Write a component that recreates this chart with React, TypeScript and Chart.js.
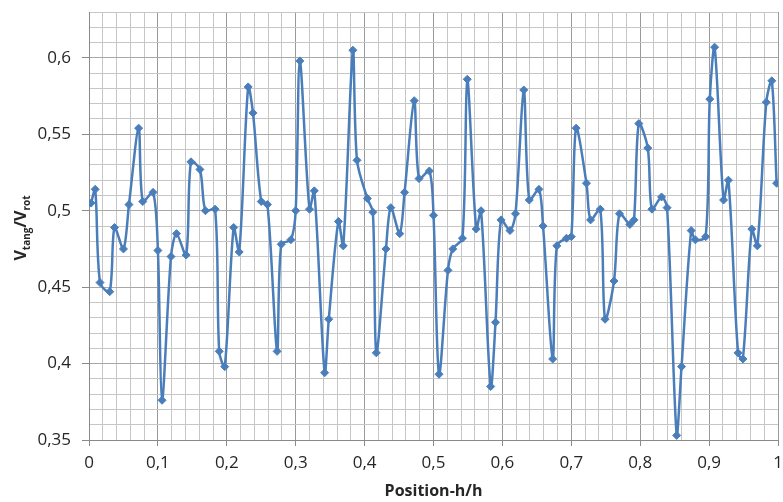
import React, { useEffect, useRef } from "react";
import { Chart, registerables } from "chart.js";

Chart.register(...registerables);

const positions = [
  0.003, 0.009, 0.016, 0.030, 0.037, 0.050, 0.058, 0.072, 0.078, 0.093,
  0.100, 0.106, 0.119, 0.127, 0.141, 0.148, 0.161, 0.169, 0.183, 0.189,
  0.197, 0.210, 0.218, 0.231, 0.238, 0.250, 0.259, 0.273, 0.279, 0.293,
  0.300, 0.306, 0.320, 0.327, 0.342, 0.348, 0.362, 0.369, 0.383, 0.389,
  0.404, 0.412, 0.417, 0.431, 0.438, 0.451, 0.458, 0.472, 0.479, 0.494,
  0.500, 0.508, 0.521, 0.528, 0.542, 0.549, 0.562, 0.569, 0.583, 0.590,
  0.598, 0.611, 0.619, 0.631, 0.639, 0.653, 0.659, 0.673, 0.679, 0.693,
  0.700, 0.707, 0.722, 0.728, 0.742, 0.749, 0.762, 0.770, 0.785, 0.791,
  0.798, 0.811, 0.817, 0.831, 0.839, 0.853, 0.860, 0.874, 0.880, 0.895,
  0.901, 0.908, 0.921, 0.928, 0.942, 0.949, 0.962, 0.970, 0.983, 0.991,
  0.998,
];

const ratios = [
  0.505, 0.514, 0.453, 0.447, 0.489, 0.475, 0.504, 0.554, 0.506, 0.512,
  0.474, 0.376, 0.470, 0.485, 0.471, 0.532, 0.527, 0.500, 0.501, 0.408,
  0.398, 0.489, 0.473, 0.581, 0.564, 0.506, 0.504, 0.408, 0.478, 0.481,
  0.500, 0.598, 0.501, 0.513, 0.394, 0.429, 0.493, 0.477, 0.605, 0.533,
  0.508, 0.499, 0.407, 0.475, 0.502, 0.485, 0.512, 0.572, 0.521, 0.526,
  0.497, 0.393, 0.461, 0.475, 0.482, 0.586, 0.488, 0.500, 0.385, 0.427,
  0.494, 0.487, 0.498, 0.579, 0.507, 0.514, 0.490, 0.403, 0.477, 0.482,
  0.483, 0.554, 0.518, 0.494, 0.501, 0.429, 0.454, 0.498, 0.491, 0.494,
  0.557, 0.541, 0.501, 0.509, 0.502, 0.353, 0.398, 0.487, 0.481, 0.483,
  0.573, 0.607, 0.507, 0.520, 0.407, 0.403, 0.488, 0.477, 0.571, 0.585,
  0.518,
];

const xMin = 0;
const xMax = 1;
const xStep = 0.02;
const xMajor = 0.1;
const yMin = 0.35;
const yMax = 0.63;
const yStep = 0.01;
const yMajor = 0.05;

const xTitle = "Position-h/h";
const yTitleParts = [
  { text: "V", sub: false },
  { text: "tang", sub: true },
  { text: "/V", sub: false },
  { text: "rot", sub: true },
];

const FONT = "'Open Sans', 'Liberation Sans', sans-serif";
const LINE_COLOR = "#4a7ebb";

function isMultiple(v: number, m: number) {
  const r = v / m;
  return Math.abs(r - Math.round(r)) < 1e-6;
}

function fmt(v: number) {
  const s = (Math.round(v * 1000) / 1000).toString();
  return s.replace(".", ",");
}

const yTitlePlugin = {
  id: "yTitleSub",
  afterDraw(chart: any) {
    const ctx = chart.ctx;
    const area = chart.chartArea;
    const mainFont = `bold 16px ${FONT}`;
    const subFont = `bold 10px ${FONT}`;
    ctx.save();
    let total = 0;
    const widths: number[] = [];
    for (const p of yTitleParts) {
      ctx.font = p.sub ? subFont : mainFont;
      const w = ctx.measureText(p.text).width;
      widths.push(w);
      total += w;
    }
    const cy = (area.top + area.bottom) / 2 + 2;
    const baseX = 26;
    ctx.translate(baseX, cy);
    ctx.rotate(-Math.PI / 2);
    ctx.fillStyle = "#262626";
    ctx.textBaseline = "alphabetic";
    ctx.textAlign = "left";
    let x = -total / 2;
    yTitleParts.forEach((p, i) => {
      ctx.font = p.sub ? subFont : mainFont;
      ctx.fillText(p.text, x, p.sub ? 4 : 0);
      x += widths[i];
    });
    ctx.restore();
  },
};

export default function App() {
  const ref = useRef<HTMLCanvasElement | null>(null);

  useEffect(() => {
    document.body.style.margin = "0";
    const canvas = ref.current;
    if (!canvas) return;
    const points = positions.map((x, i) => ({ x, y: ratios[i] }));
    const chart = new Chart(canvas, {
      type: "line",
      data: {
        datasets: [
          {
            data: points,
            borderColor: LINE_COLOR,
            backgroundColor: LINE_COLOR,
            borderWidth: 2.5,
            tension: 0.3,
            pointStyle: "rectRot",
            pointRadius: 4,
            pointBorderWidth: 1,
            pointBackgroundColor: LINE_COLOR,
            pointBorderColor: LINE_COLOR,
            fill: false,
          },
        ],
      },
      options: {
        responsive: false,
        animation: false,
        events: [],
        layout: { padding: { top: 12, right: 4, left: 0, bottom: 0 } },
        plugins: {
          legend: { display: false },
          tooltip: { enabled: false },
        },
        scales: {
          x: {
            type: "linear",
            min: xMin,
            max: xMax,
            afterFit: (scale: any) => {
              scale.height = 62;
              scale.paddingRight = 0;
              scale.paddingLeft = 0;
            },
            ticks: {
              stepSize: xStep,
              maxTicksLimit: 200,
              autoSkip: false,
              maxRotation: 0,
              minRotation: 0,
              padding: 7,
              color: "#262626",
              font: { family: FONT, size: 17 },
              callback: (v: any) => (isMultiple(Number(v), xMajor) ? fmt(Number(v)) : ""),
            },
            grid: {
              color: (c: any) =>
                c.tick && isMultiple(c.tick.value, xMajor) ? "#9a9a9a" : "#c6c6c6",
              tickColor: (c: any) =>
                c.tick && isMultiple(c.tick.value, xMajor) ? "#8a8a8a" : "rgba(0,0,0,0)",
              tickLength: 6,
              lineWidth: 1,
            },
            border: { display: true, color: "#8a8a8a" },
            title: {
              display: true,
              text: xTitle,
              color: "#262626",
              font: { family: FONT, size: 16, weight: "bold" },
              padding: { top: 0, bottom: 1 },
            },
          },
          y: {
            type: "linear",
            min: yMin,
            max: yMax,
            afterFit: (scale: any) => {
              scale.width = 89;
              scale.paddingTop = 0;
              scale.paddingBottom = 0;
            },
            ticks: {
              stepSize: yStep,
              maxTicksLimit: 200,
              autoSkip: false,
              padding: 11,
              color: "#262626",
              font: { family: FONT, size: 17 },
              callback: (v: any) => (isMultiple(Number(v), yMajor) ? fmt(Number(v)) : ""),
            },
            grid: {
              color: (c: any) =>
                c.tick && isMultiple(c.tick.value, yMajor) ? "#a8a8a8" : "#c6c6c6",
              tickColor: (c: any) =>
                c.tick && isMultiple(c.tick.value, yMajor) ? "#8a8a8a" : "rgba(0,0,0,0)",
              tickLength: 7,
              lineWidth: 1,
            },
            border: { display: true, color: "#8a8a8a" },
          },
        },
      },
      plugins: [yTitlePlugin],
    });
    return () => chart.destroy();
  }, []);

  return <canvas ref={ref} width={783} height={502} style={{ display: "block" }} />;
}
